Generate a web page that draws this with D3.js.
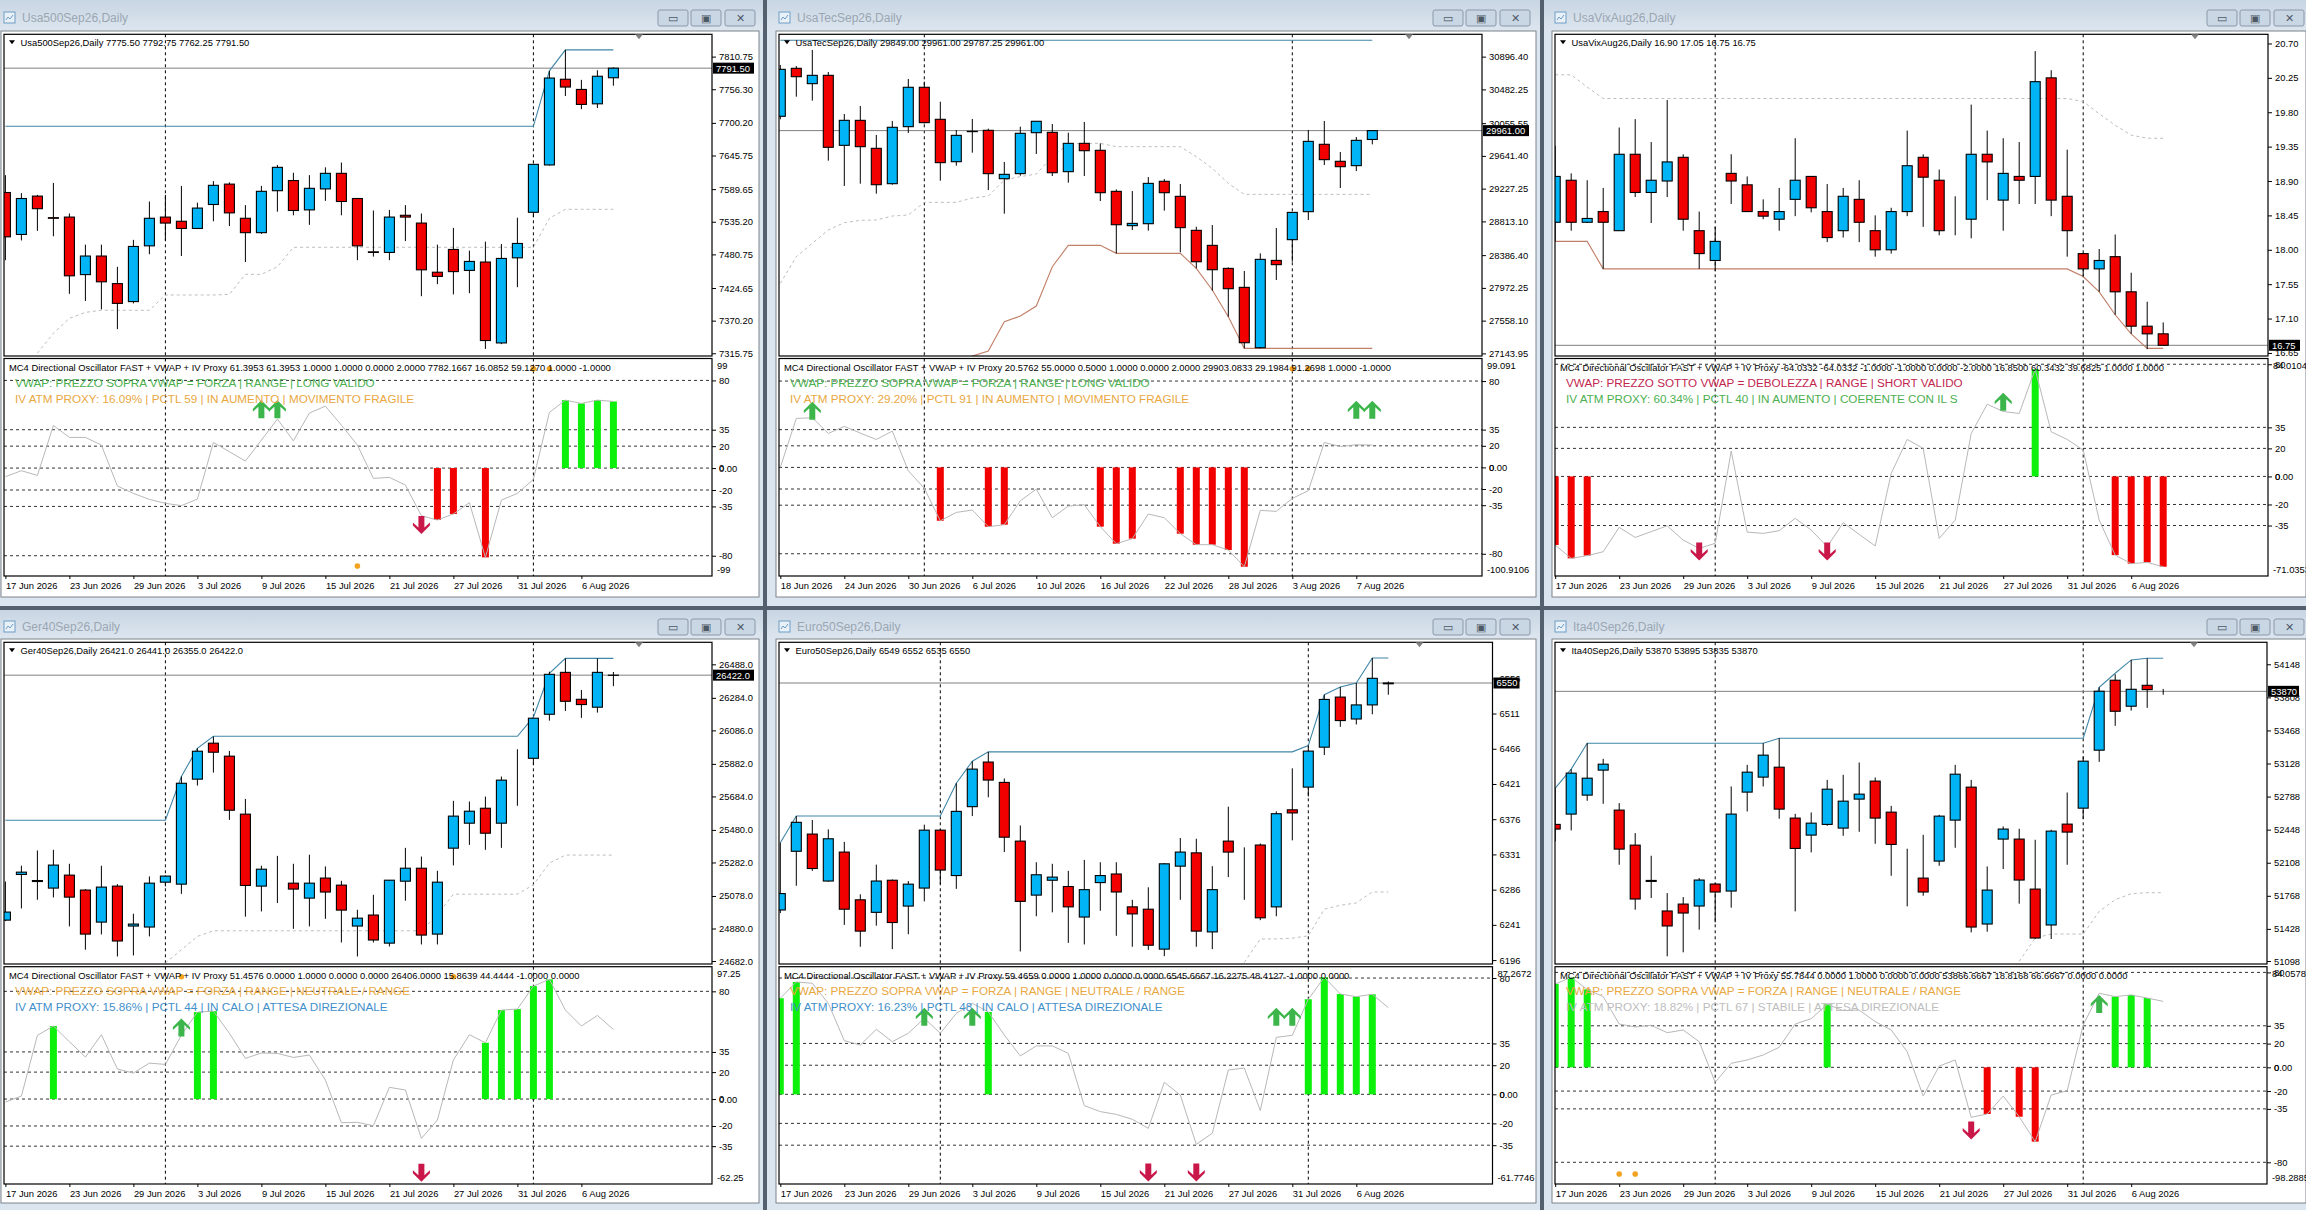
<!DOCTYPE html>
<html>
<head>
<meta charset="utf-8">
<script src="https://d3js.org/d3.v7.min.js"></script>
<style>
  body { margin: 0; background: #55606e; }
  text { font-family: "Liberation Sans", Arial, sans-serif; font-size: 9.4px; fill: #000; }
  .domain { display: none; }
  .tick line { stroke: #000; }
</style>
</head>
<body>
<div id="chart"></div>
<script>
// Tick labels and dates
const datesFrom17 = ["17 Jun 2026","23 Jun 2026","29 Jun 2026","3 Jul 2026","9 Jul 2026","15 Jul 2026","21 Jul 2026","27 Jul 2026","31 Jul 2026","6 Aug 2026"];
const datesFrom18 = ["18 Jun 2026","24 Jun 2026","30 Jun 2026","6 Jul 2026","10 Jul 2026","16 Jul 2026","22 Jul 2026","28 Jul 2026","3 Aug 2026","7 Aug 2026"];
const oscLevels = [80, 35, 20, 0, -20, -35, -80];

// Usa500 [open, high, low, close]
const usa500Ohlc = [[7584,7613,7471,7510],[7514,7583,7504,7574],[7578,7580,7520,7557],[7542,7600,7511,7541],[7543,7549,7415,7445],[7447,7497,7403,7478],[7478,7497,7389,7435],[7432,7460,7356,7399],[7402,7505,7399,7494],[7495,7569,7481,7541],[7543,7580,7504,7533],[7536,7595,7478,7524],[7524,7567,7523,7558],[7564,7603,7536,7596],[7598,7601,7528,7550],[7541,7563,7468,7517],[7517,7595,7515,7586],[7587,7630,7552,7626],[7604,7617,7546,7554],[7555,7613,7530,7591],[7590,7626,7570,7616],[7616,7634,7546,7569],[7574,7575,7471,7495],[7485,7554,7477,7484],[7484,7555,7471,7543],[7546,7563,7503,7543],[7533,7549,7411,7455],[7451,7497,7431,7444],[7489,7525,7414,7452],[7454,7487,7416,7469],[7468,7502,7323,7337],[7333,7498,7331,7474],[7475,7542,7426,7499],[7551,7632,7543,7631],[7630,7787,7629,7775],[7773,7822,7745,7760],[7756,7772,7723,7731],[7732,7788,7725,7778],[7775.5,7792.75,7762.25,7791.5]];
const usa500Upper = [7694.5,7694.5,7694.5,7694.5,7694.5,7694.5,7694.5,7694.5,7694.5,7694.5,7694.5,7694.5,7694.5,7694.5,7694.5,7694.5,7694.5,7694.5,7694.5,7694.5,7694.5,7694.5,7694.5,7694.5,7694.5,7694.5,7694.5,7694.5,7694.5,7694.5,7694.5,7694.5,7694.5,7694.5,7787,7822,7822,7822,7822];
const usa500Lower = [null,null,7316,7349,7374,7384,7387.5,7387.5,7387.5,7387.5,7413,7413,7413,7413,7414,7447.5,7447.5,7460,7492.6,7492.6,7492.6,7492.6,7492.6,7492.6,7492.6,7492.6,7492.6,7492.6,7492.6,7492.6,7492.6,7492.6,7492.6,7492.6,7541,7556,7556,7556,7556];
const usa500Ticks = [7810.75,7756.30,7700.20,7645.75,7589.65,7535.20,7480.75,7424.65,7370.20,7315.75];
const usa500Osc = [-7.9,-2.4,-6.7,38.9,28,28,21,-16.4,-23.1,-28.6,-32.2,-34.3,-28.3,23.4,14.9,6.4,25.5,44.7,24.9,50.2,56.5,39.2,21,-9.4,-8.5,-15.5,-43.5,-47.4,-41.9,-31.6,-81.5,-29.2,-23.1,-10.3,50.8,62,59,62,60.8];
const usa500Bars = [27,28,30,35,36,37,38];
const usa500Up = [[16,62],[17,62]];
const usa500Down = [[26,-60.2]];
const usa500Dots = [[22,-89.4],[33,90.6],[34,90.6]];

// UsaTec
const usaTecOhlc = [[30142,30791,30104,30736],[30749,30778,30390,30643],[30555,30981,30340,30660],[30660,30702,29581,29750],[29775,30171,29261,30091],[30091,30272,29290,29758],[29737,29906,29164,29277],[29290,30083,29277,30003],[30011,30614,29931,30509],[30509,30580,30053,30062],[30104,30327,29328,29556],[29568,29969,29518,29901],[29952,30108,29682,29948],[29965,29986,29210,29417],[29353,29564,28911,29408],[29417,30011,29391,29927],[29935,30079,29665,30079],[29939,30045,29387,29429],[29442,29935,29303,29800],[29800,30070,29387,29707],[29712,29800,29071,29176],[29193,29218,28409,28771],[28759,29197,28704,28788],[28784,29374,28696,29294],[29320,29349,28949,29176],[29130,29286,28422,28734],[28700,28746,28219,28303],[28510,28767,27937,28202],[28219,28232,27608,27962],[27979,28186,27207,27279],[27216,28409,27207,28333],[28320,28729,28072,28266],[28582,28930,28303,28927],[28936,29969,28830,29825],[29788,30083,29526,29594],[29573,29691,29235,29505],[29518,29880,29450,29838],[29849,29961,29787.25,29961]];
const usaTecUpper = [31103,31103,31103,31103,31103,31103,31103,31103,31103,31103,31103,31103,31103,31103,31103,31103,31103,31103,31103,31103,31103,31103,31103,31103,31103,31103,31103,31103,31103,31103,31103,31103,31103,31103,31103,31103,31103,31103];
const usaTecLower = [28030,28367,28535,28704,28797,28826,28831,28881,28894,29054,29054,29054,29109,29134,29336,29379,29412,29632,29792,29800,29800,29758,29758,29758,29758,29758,29632,29484,29294,29155,29155,29155,29155,29155,29155,29155,29155,29155];
const usaTecSupport = [null,null,null,null,null,null,null,null,null,null,null,null,27110,27174,27545,27616,27743,28240,28510,28510,28510,28409,28409,28409,28409,28409,28219,27945,27608,27207,27207,27207,27207,27207,27207,27207,27207,27207];
const usaTecTicks = [30896.40,30482.25,30055.55,29641.40,29227.25,28813.10,28386.40,27972.25,27558.10,27143.95];
const usaTecOsc = [0,45.4,46,31.5,38,31.8,25.9,33.6,-3.1,-19.4,-49.4,-41.7,-39.5,-54.9,-53.1,-30.9,-20.1,-46.6,-35.8,-34.6,-54.9,-70.7,-66,-43.2,-46.6,-61.4,-71.6,-71.6,-76.5,-92,-39.8,-40.7,-28.7,-21.6,23.1,19.4,21,20.7];
const usaTecBars = [10,13,14,20,21,22,25,26,27,28,29];
const usaTecUp = [[2,60.8],[36,61.7],[37,61.7]];
const usaTecDown = [];
const usaTecDots = [[32,91.4],[33,91.4]];

// UsaVix
const usaVixOhlc = [[18.36,19.36,18.11,18.96],[18.91,19.00,18.25,18.36],[18.36,18.91,18.35,18.41],[18.50,18.81,17.75,18.36],[18.25,19.60,18.25,19.25],[19.25,19.71,18.69,18.75],[18.75,19.41,18.35,18.91],[18.90,19.96,18.69,19.15],[19.21,19.25,18.25,18.40],[18.25,18.50,17.75,17.95],[17.86,18.30,17.72,18.11],[19.00,19.25,18.60,18.90],[18.85,18.96,18.50,18.50],[18.50,18.66,18.40,18.44],[18.40,18.81,18.25,18.50],[18.66,19.46,18.44,18.91],[18.96,18.96,18.49,18.55],[18.50,18.86,18.10,18.16],[18.25,18.81,18.16,18.70],[18.66,18.91,18.10,18.36],[18.25,18.45,17.91,18.00],[18.00,18.55,17.95,18.50],[18.50,19.56,18.44,19.10],[19.21,19.25,18.30,18.95],[18.91,19.05,18.19,18.25],[18.25,18.70,18.19,18.25],[18.40,19.90,18.15,19.25],[19.25,19.56,18.65,19.15],[18.65,19.46,18.25,19.00],[18.96,19.41,18.60,18.91],[18.96,20.60,18.60,20.20],[20.25,20.35,18.44,18.65],[18.70,19.31,17.91,18.25],[17.95,17.96,17.65,17.75],[17.75,18.01,17.45,17.86],[17.91,18.20,17.15,17.45],[17.45,17.70,16.90,17.00],[17.00,17.32,16.70,16.90],[16.90,17.05,16.75,16.75]];
const usaVixLower = [20.29,20.29,20.13,19.98,19.98,19.98,19.98,19.98,19.98,19.98,19.98,19.98,19.98,19.98,19.98,19.98,19.98,19.98,19.98,19.98,19.98,19.98,19.98,19.98,19.98,19.98,19.98,19.98,19.98,19.98,19.98,19.98,19.98,19.94,19.78,19.63,19.50,19.46,19.46];
const usaVixSupport = [18.11,18.11,18.11,17.75,17.75,17.75,17.75,17.75,17.75,17.75,17.75,17.75,17.75,17.75,17.75,17.75,17.75,17.75,17.75,17.75,17.75,17.75,17.75,17.75,17.75,17.75,17.75,17.75,17.75,17.75,17.75,17.75,17.75,17.65,17.45,17.15,16.90,16.71,16.71];
const usaVixTicks = [20.70,20.25,19.80,19.35,18.90,18.45,18.00,17.55,17.10,16.65];
const usaVixOsc = [-48.9,-58.4,-56.5,-53.7,-36.3,-43.5,-39.4,-35.2,-45.4,-51.3,-47.7,18.1,-39.7,-40.6,-38.7,-29.9,-38.2,-50.1,-33,-41.3,-49.6,2.1,26.4,20,-44.2,-31.1,30.6,51.5,46.3,44.9,76.5,31.8,26.4,18.8,-31.1,-56.1,-62.2,-61.3,-64.4];
const usaVixBars = [0,1,2,30,35,36,37,38];
const usaVixUp = [[28,59.6]];
const usaVixDown = [[9,-60],[17,-60]];
const usaVixDots = [];

// Ger40
const ger40Ohlc = [[24931,25166,24925,24980],[25209,25262,25002,25223],[25172,25355,25055,25166],[25126,25359,25069,25266],[25205,25274,24893,25071],[25114,25120,24751,24846],[24919,25262,24844,25132],[25138,25150,24710,24804],[24895,24970,24716,24907],[24889,25197,24832,25156],[25162,25203,25136,25199],[25150,25805,25091,25764],[25789,25977,25750,25959],[26008,26048,25829,25953],[25929,25961,25541,25600],[25576,25669,24952,25142],[25138,25262,24984,25241],[25217,25322,25035,25217],[25156,25274,24878,25120],[25065,25329,24893,25156],[25187,25258,24939,25102],[25144,25170,24795,24992],[24895,24994,24710,24943],[24962,25085,24795,24810],[24791,25175,24771,25174],[25168,25371,25049,25247],[25247,25318,24783,24840],[24846,25231,24783,25162],[25369,25657,25264,25564],[25521,25653,25389,25594],[25612,25683,25359,25460],[25521,25805,25371,25783],[25789,25971,25627,25789],[25916,26160,25876,26160],[26184,26443,26145,26427],[26439,26524,26204,26263],[26275,26332,26162,26243],[26227,26524,26194,26439],[26421,26441,26355,26422]];
const ger40Upper = [25539,25539,25539,25539,25539,25539,25539,25539,25539,25539,25539,25805,25977,26050,26050,26050,26050,26050,26050,26050,26050,26050,26050,26050,26050,26050,26050,26050,26050,26050,26050,26050,26050,26166,26433,26524,26524,26524,26524];
const ger40Lower = [null,null,null,null,null,null,null,null,null,null,24670,24751,24832,24866,24866,24866,24866,24866,24866,24866,24866,24866,24866,24866,24866,24866,24866,24964,25089,25089,25089,25089,25089,25146,25278,25327,25327,25327,25327];
const ger40Ticks = [26488,26284,26086,25882,25684,25480,25282,25078,24880,24682];
const ger40Osc = [-2.2,2.2,47.3,54.2,42.6,31.2,47.8,22.3,19.3,26.7,25.7,47.5,64.6,65.3,48.8,30.2,34.2,33.9,30.9,32.7,14.1,-17.6,-17.3,-19.8,8.7,6.7,-29.2,-15.6,29,47.8,41.8,66.1,66.8,83.9,88.9,66.1,54.2,62.1,51.7];
const ger40Bars = [3,12,13,30,31,32,33,34];
const ger40Up = [[11,59.9]];
const ger40Down = [[26,-61.4]];
const ger40Dots = [[11,90.8],[28,90.8]];

// Euro50
const euro50Ohlc = [[6260,6346,6256,6281],[6335,6380,6291,6372],[6357,6375,6310,6313],[6297,6363,6296,6351],[6334,6347,6241,6261],[6273,6280,6213,6233],[6257,6318,6240,6297],[6298,6299,6210,6244],[6265,6297,6229,6293],[6288,6369,6271,6362],[6362,6363,6293,6311],[6304,6422,6287,6386],[6392,6450,6380,6440],[6449,6462,6404,6426],[6423,6428,6334,6353],[6348,6368,6207,6271],[6279,6321,6252,6305],[6298,6319,6257,6302],[6290,6310,6218,6264],[6251,6324,6216,6286],[6295,6321,6259,6304],[6306,6321,6227,6283],[6264,6273,6213,6255],[6261,6289,6209,6215],[6210,6320,6201,6319],[6316,6352,6273,6334],[6333,6351,6213,6233],[6232,6316,6210,6286],[6348,6392,6302,6334],[6320,6340,6273,6320],[6343,6345,6247,6250],[6264,6386,6252,6383],[6388,6441,6349,6384],[6417,6470,6405,6463],[6468,6535,6458,6529],[6532,6545,6494,6502],[6504,6550,6497,6522],[6522,6582,6510,6556],[6549,6552,6535,6550]];
const euro50Upper = [6346,6380,6380,6380,6380,6380,6380,6380,6380,6380,6380,6422,6450,6462,6462,6462,6462,6462,6462,6462,6462,6462,6462,6462,6462,6462,6462,6462,6462,6462,6462,6462,6462,6470,6535,6545,6550,6582,6582];
const euro50Lower = [null,null,null,null,null,null,null,null,null,null,null,null,null,null,null,null,null,null,null,null,null,null,null,null,null,null,null,null,null,6193,6223,6223,6224,6227,6261,6266,6269,6283,6283];
const euro50Ticks = [6556,6511,6466,6421,6376,6331,6286,6241,6196];
const euro50Osc = [66.1,77.3,76.4,62.6,36.9,33.9,44.7,36.2,42,52.3,42,55.7,62.6,56.7,40.8,26.4,33.3,33.3,28.2,-7.8,-11.9,-13.8,-17.2,-23.4,8.3,-0.5,-34.4,-26.8,16.7,18.1,-11.2,39.2,40.6,65.4,80.5,69,67.2,68.8,59.6];
const euro50Bars = [0,1,13,33,34,35,36,37];
const euro50Up = [[9,59.6],[12,59.6],[31,59.6],[32,59.6]];
const euro50Down = [[23,-60],[26,-60]];
const euro50Dots = [];

// Ita40
const ita40Ohlc = [[52502,52875,52327,52454],[52608,53070,52440,53029],[52803,53337,52745,52977],[53060,53176,52714,53121],[52649,52721,52087,52248],[52289,52413,51625,51735],[51926,52180,51745,51916],[51612,51796,51146,51458],[51683,51755,51187,51591],[51663,51950,51420,51930],[51889,51899,51495,51807],[51817,52892,51646,52608],[52834,53114,52635,53039],[52988,53337,52892,53214],[53090,53388,52560,52659],[52567,52611,51608,52255],[52392,52625,52214,52515],[52502,52960,52488,52864],[52464,53012,52385,52741],[52762,53138,52426,52813],[52947,52984,52303,52567],[52628,52693,51974,52296],[52033,52252,51660,52033],[51950,52395,51769,51807],[52125,52601,52077,52587],[52546,53114,52262,53018],[52885,52960,51392,51447],[51478,52070,51399,51827],[52351,52481,52043,52454],[52351,52457,51687,51930],[51837,52344,51324,51334],[51468,52447,51324,52433],[52505,52830,52087,52423],[52669,53200,52560,53152],[53265,53912,53145,53871],[53984,54045,53515,53665],[53717,54193,53672,53891],[53932,54210,53700,53888],[53870,53895,53835,53870]];
const ita40Upper = [52875,53070,53337,53337,53337,53337,53337,53337,53337,53337,53337,53337,53337,53337,53388,53388,53388,53388,53388,53388,53388,53388,53388,53388,53388,53388,53388,53388,53388,53388,53388,53388,53388,53388,53912,54056,54193,54210,54210];
const ita40Lower = [null,null,null,null,null,null,null,null,null,null,null,null,null,null,null,null,null,null,null,null,null,null,null,null,null,null,null,null,null,51095,51334,51375,51375,51375,51608,51728,51790,51800,51800];
const ita40Ticks = [54148,53808,53468,53128,52788,52448,52108,51768,51428,51098];
const ita40Osc = [70.2,75.8,65.7,59.6,36.5,34,35.4,29.2,31.5,21.6,-12.6,3.4,6.2,10.4,16.9,36.5,41,53.1,47.8,48.3,38.5,31.5,13.2,-24.2,1.1,6.2,-42.1,-39.3,-24.2,-41.6,-62.6,-23.3,-19.7,35.7,62.4,59.6,61,58.4,55.6];
const ita40Bars = [0,1,2,17,27,29,30,35,36,37];
const ita40Up = [[34,61]];
const ita40Down = [[26,-60.7]];
const ita40Dots = [[4,-89.9],[5,-89.9]];

const oscName = "MC4 Directional Oscillator FAST + VWAP + IV Proxy ";
const green = "#4cb050", orange = "#e9a83f", crimson = "#c2264f", blue = "#3f8fcb", pale = "#bdbdbd";

// One entry per terminal window
const row1 = { winTop: 0, clientTop: 31, clientBottom: 597, winBottom: 606, titleY: 18, mainTop: 34.3, mainBottom: 356, oscTop: 358.5, oscBottom: 576 };
const row2 = { winTop: 610, clientTop: 639, clientBottom: 1203, winBottom: 1210, titleY: 627, mainTop: 642.3, mainBottom: 964, oscTop: 966.7, oscBottom: 1184 };
const col1 = { winLeft: 0, winRight: 763, btnRight: 756, clientRight: 759, left: 4, x0: 5.4 };
const col2 = { winLeft: 767, winRight: 1540, btnRight: 1531, clientRight: 1536, left: 779, x0: 780.3 };
const col3 = { winLeft: 1544, winRight: 2306, btnRight: 2305, clientRight: 2306, left: 1555, x0: 1555.2 };
const windows = [
  { ...row1, ...col1, right: 712, name: "Usa500Sep26,Daily", quote: "7775.50 7792.75 7762.25 7791.50",
    ohlc: usa500Ohlc, upper: usa500Upper, lower: usa500Lower, support: null, ticks: usa500Ticks, digits: 2, domain: [7311.2, 7848],
    osc: usa500Osc, bars: usa500Bars, up: usa500Up, down: usa500Down, dots: usa500Dots, oscDomain: [-98.5, 100], oscEnds: ["99", "-99"],
    dates: datesFrom17, seps: [10, 33],
    oscValues: "61.3953 61.3953 1.0000 1.0000 0.0000 2.0000 7782.1667 16.0852 59.1270 1.0000 -1.0000",
    vwap: ["VWAP: PREZZO SOPRA VWAP = FORZA | RANGE | LONG VALIDO", green], iv: ["IV ATM PROXY: 16.09% | PCTL 59 | IN AUMENTO | MOVIMENTO FRAGILE", orange] },
  { ...row1, ...col2, right: 1482, name: "UsaTecSep26,Daily", quote: "29849.00 29961.00 29787.25 29961.00",
    ohlc: usaTecOhlc, upper: usaTecUpper, lower: usaTecLower, support: usaTecSupport, ticks: usaTecTicks, digits: 2, domain: [27111, 31179],
    osc: usaTecOsc, bars: usaTecBars, up: usaTecUp, down: usaTecDown, dots: usaTecDots, oscDomain: [-100.6, 100.9], oscEnds: ["99.091", "-100.9106"],
    dates: datesFrom18, seps: [9, 32],
    oscValues: "20.5762 55.0000 0.5000 1.0000 0.0000 2.0000 29903.0833 29.1984 91.2698 1.0000 -1.0000",
    vwap: ["VWAP: PREZZO SOPRA VWAP = FORZA | RANGE | LONG VALIDO", green], iv: ["IV ATM PROXY: 29.20% | PCTL 91 | IN AUMENTO | MOVIMENTO FRAGILE", orange] },
  { ...row1, ...col3, right: 2268, name: "UsaVixAug26,Daily", quote: "16.90 17.05 16.75 16.75",
    ohlc: usaVixOhlc, upper: null, lower: usaVixLower, support: usaVixSupport, ticks: usaVixTicks, digits: 2, domain: [16.61, 20.82],
    osc: usaVixOsc, bars: usaVixBars, up: usaVixUp, down: usaVixDown, dots: usaVixDots, oscDomain: [-71, 84.1], oscEnds: ["84.0104", "-71.0353"],
    dates: datesFrom17, seps: [10, 33],
    oscValues: "-64.0332 -64.0332 -1.0000 -1.0000 0.0000 -2.0000 16.8500 60.3432 39.6825 1.0000 1.0000",
    vwap: ["VWAP: PREZZO SOTTO VWAP = DEBOLEZZA | RANGE | SHORT VALIDO", crimson], iv: ["IV ATM PROXY: 60.34% | PCTL 40 | IN AUMENTO | COERENTE CON IL S", green] },
  { ...row2, ...col1, right: 712, name: "Ger40Sep26,Daily", quote: "26421.0 26441.0 26355.0 26422.0",
    ohlc: ger40Ohlc, upper: ger40Upper, lower: ger40Lower, support: null, ticks: ger40Ticks, digits: 1, domain: [24664, 26622],
    osc: ger40Osc, bars: ger40Bars, up: ger40Up, down: ger40Down, dots: ger40Dots, oscDomain: [-63.1, 98.3], oscEnds: ["97.25", "-62.25"],
    dates: datesFrom17, seps: [10, 33],
    oscValues: "51.4576 0.0000 1.0000 0.0000 0.0000 26406.0000 15.8639 44.4444 -1.0000 0.0000",
    vwap: ["VWAP: PREZZO SOPRA VWAP = FORZA | RANGE | NEUTRALE / RANGE", orange], iv: ["IV ATM PROXY: 15.86% | PCTL 44 | IN CALO | ATTESA DIREZIONALE", blue] },
  { ...row2, ...col2, right: 1492.5, name: "Euro50Sep26,Daily", quote: "6549 6552 6535 6550",
    ohlc: euro50Ohlc, upper: euro50Upper, lower: euro50Lower, support: null, ticks: euro50Ticks, digits: 0, domain: [6191, 6602],
    osc: euro50Osc, bars: euro50Bars, up: euro50Up, down: euro50Down, dots: euro50Dots, oscDomain: [-61.7, 87.8], oscEnds: ["87.2672", "-61.7746"],
    dates: datesFrom17, seps: [10, 33],
    oscValues: "59.4659 0.0000 1.0000 0.0000 0.0000 6545.6667 16.2275 48.4127 -1.0000 0.0000",
    vwap: ["VWAP: PREZZO SOPRA VWAP = FORZA | RANGE | NEUTRALE / RANGE", orange], iv: ["IV ATM PROXY: 16.23% | PCTL 48 | IN CALO | ATTESA DIREZIONALE", blue] },
  { ...row2, ...col3, right: 2267, name: "Ita40Sep26,Daily", quote: "53870 53895 53835 53870",
    ohlc: ita40Ohlc, upper: ita40Upper, lower: ita40Lower, support: null, ticks: ita40Ticks, digits: 0, domain: [51067, 54374],
    osc: ita40Osc, bars: ita40Bars, up: ita40Up, down: ita40Down, dots: ita40Dots, oscDomain: [-98.3, 84.8], oscEnds: ["84.0578", "-98.2885"],
    dates: datesFrom17, seps: [10, 33],
    oscValues: "55.7844 0.0000 1.0000 0.0000 0.0000 53866.6667 18.8168 66.6667 0.0000 0.0000",
    vwap: ["VWAP: PREZZO SOPRA VWAP = FORZA | RANGE | NEUTRALE / RANGE", orange], iv: ["IV ATM PROXY: 18.82% | PCTL 67 | STABILE | ATTESA DIREZIONALE", pale] }
];

const svg = d3.select("#chart").append("svg")
  .attr("width", 2306).attr("height", 1210)
  .style("display", "block");

const defs = svg.append("defs");
const titleGrad = defs.append("linearGradient").attr("id", "titleGrad")
  .attr("x1", 0).attr("x2", 0).attr("y1", 0).attr("y2", 1);
titleGrad.append("stop").attr("offset", "0%").attr("stop-color", "#c8d5e3");
titleGrad.append("stop").attr("offset", "100%").attr("stop-color", "#dde6ef");

// Arrow shapes, tip at 0,0
const upArrow = "M0,0 L8.5,8.5 L8.5,11.5 L3,6.5 L3,18 L-3,18 L-3,6.5 L-8.5,11.5 L-8.5,8.5 Z";
const downArrow = "M0,0 L8.5,-8.5 L8.5,-11.5 L3,-6.5 L3,-18 L-3,-18 L-3,-6.5 L-8.5,-11.5 L-8.5,-8.5 Z";

windows.forEach((w, k) => {
  const g = svg.append("g");
  const mainH = w.mainBottom - w.mainTop, oscH = w.oscBottom - w.oscTop, paneW = w.right - w.left;

  // Window frame and title bar
  g.append("rect").attr("x", w.winLeft).attr("y", w.winTop)
    .attr("width", w.winRight - w.winLeft).attr("height", w.winBottom - w.winTop).attr("fill", "#dbe5f0");
  g.append("rect").attr("x", w.winLeft).attr("y", w.winTop)
    .attr("width", w.winRight - w.winLeft).attr("height", w.clientTop - w.winTop).attr("fill", "url(#titleGrad)");
  g.append("rect").attr("x", w.left - 3).attr("y", w.clientTop)
    .attr("width", w.clientRight - (w.left - 3)).attr("height", w.clientBottom - w.clientTop)
    .attr("fill", "#fff").attr("stroke", "#7d838a").attr("stroke-width", 1);

  // Title icon
  g.append("rect").attr("x", w.left).attr("y", w.titleY - 6).attr("width", 11).attr("height", 11)
    .attr("fill", "#e8f0f8").attr("stroke", "#6f9dc4");
  g.append("path").attr("d", `M${w.left + 2},${w.titleY + 2} l2,-3 l2,2 l3,-4`).attr("fill", "none").attr("stroke", "#6f9dc4");
  g.append("text").attr("x", w.left + 18).attr("y", w.titleY + 4)
    .style("font-size", "12px").style("fill", "#9aa6b2").text(w.name);

  // Minimize, maximize, close
  [98, 65, 31].forEach((off, b) => {
    const bx = w.btnRight - off;
    g.append("rect").attr("x", bx).attr("y", w.titleY - 8).attr("width", 30).attr("height", 16).attr("rx", 2)
      .attr("fill", "#c9d6e4").attr("stroke", "#8a98a8");
    g.append("text").attr("x", bx + 15).attr("y", w.titleY + 4).attr("text-anchor", "middle")
      .style("font-size", "11px").style("fill", "#4e5966")
      .text(["▭", "▣", "✕"][b]);
  });

  // Scales
  const x = d3.scaleLinear().domain([0, 1]).range([w.x0, w.x0 + 16]);
  const y = d3.scaleLinear().domain(w.domain).range([w.mainBottom, w.mainTop]);
  const yOsc = d3.scaleLinear().domain(w.oscDomain).range([w.oscBottom, w.oscTop]);

  defs.append("clipPath").attr("id", "clipMain" + k).append("rect")
    .attr("x", w.left).attr("y", w.mainTop).attr("width", paneW).attr("height", mainH);
  defs.append("clipPath").attr("id", "clipOsc" + k).append("rect")
    .attr("x", w.left).attr("y", w.oscTop).attr("width", paneW).attr("height", oscH);

  // Price axis
  g.append("g").attr("transform", `translate(${w.right},0)`)
    .call(d3.axisRight(y).tickValues(w.ticks).tickFormat(d => d.toFixed(w.digits)).tickSize(4).tickPadding(3));

  // Oscillator axis
  const levels = oscLevels.filter(d => d > w.oscDomain[0] && d < w.oscDomain[1]);
  g.append("g").attr("transform", `translate(${w.right},0)`)
    .call(d3.axisRight(yOsc).tickValues(levels).tickFormat(d => d === 0 ? "0.00" : d).tickSize(4).tickPadding(3));
  g.append("text").attr("x", w.right + 7).attr("y", yOsc(0) + 3.4).text("0");
  g.append("text").attr("x", w.right + 5).attr("y", w.oscTop + 10).text(w.oscEnds[0]);
  g.append("text").attr("x", w.right + 5).attr("y", w.oscBottom - 3).text(w.oscEnds[1]);

  // Time axis, labels start at the tick
  const timeAxis = g.append("g").attr("transform", `translate(0,${w.oscBottom})`)
    .call(d3.axisBottom(x).tickValues(d3.range(0, 40, 4)).tickFormat(d => w.dates[d / 4]).tickSize(3).tickPadding(3));
  timeAxis.selectAll("text").attr("text-anchor", "start");

  const main = g.append("g").attr("clip-path", `url(#clipMain${k})`);
  const osc = g.append("g").attr("clip-path", `url(#clipOsc${k})`);

  // Month separators
  [[main, w.mainTop, w.mainBottom], [osc, w.oscTop, w.oscBottom]].forEach(([pane, y1, y2]) => {
    pane.selectAll(null).data(w.seps).enter().append("line")
      .attr("x1", d => x(d)).attr("x2", d => x(d)).attr("y1", y1).attr("y2", y2)
      .attr("stroke", "#000").attr("stroke-dasharray", "3,3");
  });

  // Current price line
  const last = w.ohlc[w.ohlc.length - 1][3];
  main.append("line").attr("x1", w.left).attr("x2", w.right).attr("y1", y(last)).attr("y2", y(last))
    .attr("stroke", "#808080").attr("stroke-width", 1);

  // Indicator lines on the price pane
  const line = d3.line().defined(d => d !== null).x((d, i) => x(i)).y(d => y(d));
  if (w.lower) main.append("path").datum(w.lower).attr("d", line).attr("fill", "none")
    .attr("stroke", "#bdbdbd").attr("stroke-dasharray", "3,3");
  if (w.upper) main.append("path").datum(w.upper).attr("d", line).attr("fill", "none")
    .attr("stroke", "#3f86a8").attr("stroke-width", 1.1);
  if (w.support) main.append("path").datum(w.support).attr("d", line).attr("fill", "none")
    .attr("stroke", "#c27f68").attr("stroke-width", 1.1);

  // Candles
  const candle = main.selectAll(null).data(w.ohlc).enter().append("g");
  candle.append("line")
    .attr("x1", (d, i) => x(i)).attr("x2", (d, i) => x(i))
    .attr("y1", d => y(d[1])).attr("y2", d => y(d[2]))
    .attr("stroke", "#000").attr("stroke-width", 1);
  candle.append("rect")
    .attr("x", (d, i) => x(i) - 5).attr("width", 10)
    .attr("y", d => y(Math.max(d[0], d[3])))
    .attr("height", d => Math.abs(y(d[0]) - y(d[3])))
    .attr("fill", d => d[3] > d[0] ? "#00b4f5" : d[3] < d[0] ? "#f20000" : "#000")
    .attr("stroke", "#000").attr("stroke-width", 1.1);

  // Oscillator grid
  osc.selectAll(null).data(levels).enter().append("line")
    .attr("x1", w.left).attr("x2", w.right).attr("y1", d => yOsc(d)).attr("y2", d => yOsc(d))
    .attr("stroke", "#333").attr("stroke-dasharray", "3,3");

  // Histogram
  osc.selectAll(null).data(w.bars).enter().append("rect")
    .attr("x", d => x(d) - 3.5).attr("width", 7)
    .attr("y", d => yOsc(Math.max(0, w.osc[d])))
    .attr("height", d => Math.abs(yOsc(w.osc[d]) - yOsc(0)))
    .attr("fill", d => w.osc[d] > 0 ? "#0cf00c" : "#f20000");

  // Oscillator line
  osc.append("path").datum(w.osc)
    .attr("d", d3.line().x((d, i) => x(i)).y(d => yOsc(d)))
    .attr("fill", "none").attr("stroke", "#b8b8b8").attr("stroke-width", 1);

  // Signals
  osc.selectAll(null).data(w.up).enter().append("path").attr("d", upArrow)
    .attr("transform", d => `translate(${x(d[0])},${yOsc(d[1])})`).attr("fill", "#3cb54a");
  osc.selectAll(null).data(w.down).enter().append("path").attr("d", downArrow)
    .attr("transform", d => `translate(${x(d[0])},${yOsc(d[1])})`).attr("fill", "#c9174a");
  osc.selectAll(null).data(w.dots).enter().append("circle")
    .attr("cx", d => x(d[0])).attr("cy", d => yOsc(d[1])).attr("r", 2.8).attr("fill", "#f3a31f");

  // Pane borders
  g.append("rect").attr("x", w.left).attr("y", w.mainTop).attr("width", paneW).attr("height", mainH)
    .attr("fill", "none").attr("stroke", "#000").attr("stroke-width", 1.2);
  g.append("rect").attr("x", w.left).attr("y", w.oscTop).attr("width", paneW).attr("height", oscH)
    .attr("fill", "none").attr("stroke", "#000").attr("stroke-width", 1.2);

  // Shift marker
  const mx = w.right - 73;
  g.append("path").attr("d", `M${mx - 4},${w.mainTop} L${mx + 4},${w.mainTop} L${mx},${w.mainTop + 5} Z`).attr("fill", "#808080");

  // Current price box, as wide as its label
  const lastLabel = last.toFixed(w.digits);
  g.append("rect").attr("x", w.right + 1).attr("y", y(last) - 5.5).attr("width", lastLabel.length * 5 + 6).attr("height", 11).attr("fill", "#000");
  g.append("text").attr("x", w.right + 4).attr("y", y(last) + 3.4).style("fill", "#fff").text(lastLabel);

  // Header texts
  g.append("path").attr("d", `M${w.left + 5},${w.mainTop + 6} L${w.left + 11},${w.mainTop + 6} L${w.left + 8},${w.mainTop + 10} Z`).attr("fill", "#000");
  g.append("text").attr("x", w.left + 16.5).attr("y", w.mainTop + 12)
    .text(w.name + "  " + w.quote);
  g.append("text").attr("x", w.left + 5).attr("y", w.oscTop + 12).text(oscName + w.oscValues);
  g.append("text").attr("x", w.left + 11).attr("y", w.oscTop + 28)
    .style("font-size", "11.7px").style("fill", w.vwap[1]).text(w.vwap[0]);
  g.append("text").attr("x", w.left + 11).attr("y", w.oscTop + 44)
    .style("font-size", "11.7px").style("fill", w.iv[1]).text(w.iv[0]);
});
</script>
</body>
</html>
